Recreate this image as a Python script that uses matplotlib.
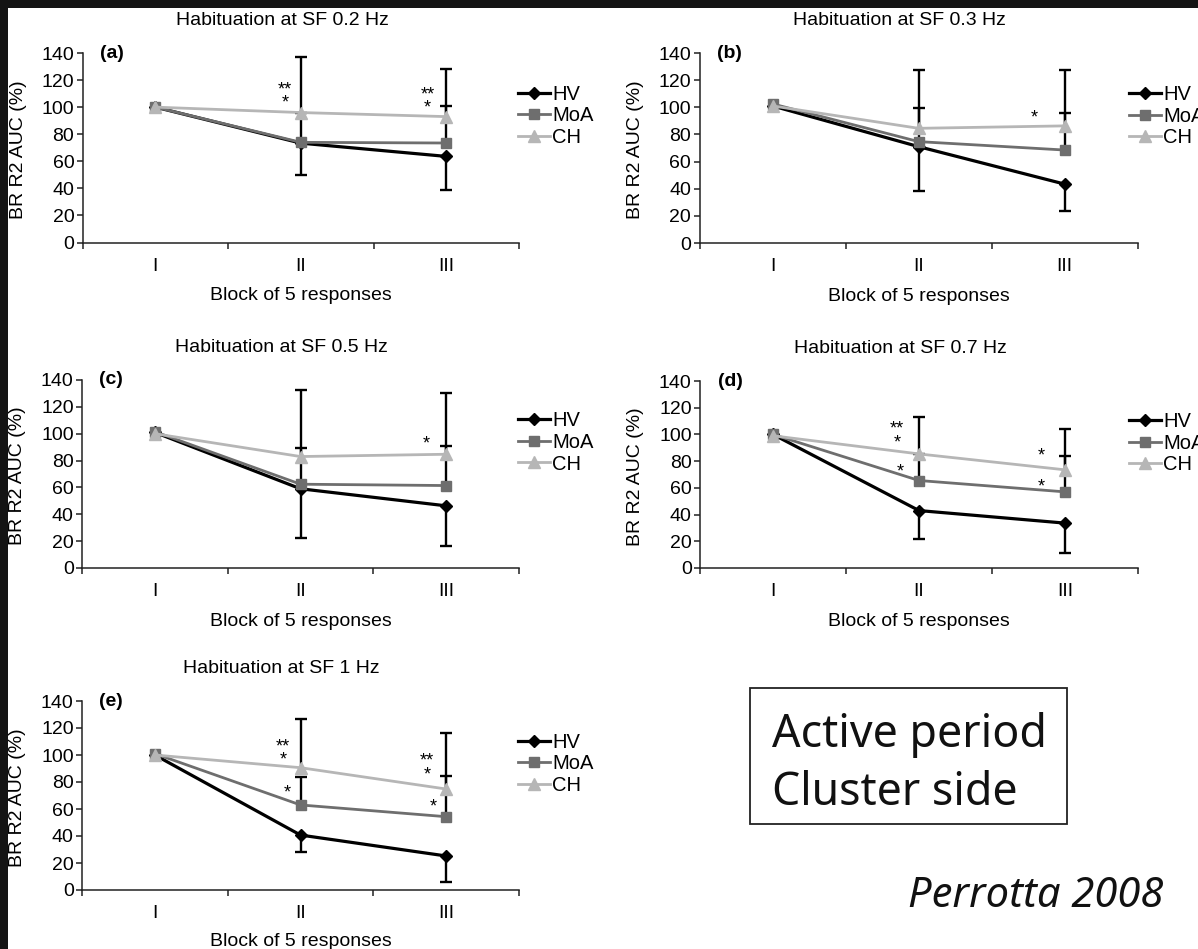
import numpy as np
import matplotlib
matplotlib.use("Agg")
import matplotlib.pyplot as plt
from matplotlib.patches import Rectangle

plt.rcParams["font.family"] = ["Liberation Sans", "DejaVu Sans"]

# ---- data -------------------------------------------------------------
blocks = ["I", "II", "III"]
groups = ["HV", "MoA", "CH"]
titles = ["Habituation at SF 0.2 Hz", "Habituation at SF 0.3 Hz",
          "Habituation at SF 0.5 Hz", "Habituation at SF 0.7 Hz",
          "Habituation at SF 1 Hz"]
tags = ["(a)", "(b)", "(c)", "(d)", "(e)"]

# mean BR R2 AUC (% of block I) per panel, blocks I-III
hv_mean = [[100, 73.4, 63.6], [101, 71, 43.4], [101, 59, 46.3],
           [100, 43, 33.6], [100, 40.7, 25.2]]
moa_mean = [[100, 74, 73.5], [102.5, 74.7, 68.5], [101.5, 62.4, 61.4],
            [100, 65.5, 57], [101, 63, 54.3]]
ch_mean = [[100, 96, 93], [101, 84.5, 86.3], [100, 83, 84.7],
           [99, 85.4, 73.5], [100, 90.6, 74.8]]

# one-sided SD bars: HV downwards, MoA and CH upwards
hv_err = [[0, 23.6, 25], [0, 33, 19.7], [0, 36.5, 30.2],
          [0, 21, 22.4], [0, 12.8, 19.5]]
moa_err = [[0, 22, 27], [0, 24.6, 27], [0, 27, 29.5],
           [0, 20, 26.5], [0, 21, 30]]
ch_err = [[0, 40.8, 35], [0, 43.2, 41.4], [0, 49.6, 45.3],
          [0, 27.5, 30.4], [0, 36, 41.7]]

# significance marks (level = height of the bottom row of stars)
star_panel = [0, 0, 1, 2, 3, 3, 3, 3, 4, 4, 4, 4]
star_x = [1.89, 2.87, 2.79, 2.86, 1.85, 1.87, 2.84, 2.84,
          1.88, 1.91, 2.87, 2.91]
star_y = [106, 102, 95, 95, 96.6, 74.7, 86.6, 63.8,
          98.8, 74.8, 88.4, 64.2]
star_text = ["**\n*", "**\n*", "*", "*", "**\n*", "*", "*", "*",
             "**\n*", "*", "**\n*", "*"]

# ---- figure -----------------------------------------------------------
W, H = 1198, 949
fig = plt.figure(figsize=(W / 100, H / 100), dpi=100)
fig.patch.set_facecolor("white")

# dark frame strips along top and left edge
fig.patches.append(Rectangle((0, 1 - 8 / H), 1, 8 / H, transform=fig.transFigure,
                             facecolor="#141414", edgecolor="none", zorder=0))
fig.patches.append(Rectangle((0, 0), 8 / W, 1, transform=fig.transFigure,
                             facecolor="#141414", edgecolor="none", zorder=0))

# axes boxes in pixels: left, right, top (y=140), bottom (y=0)
boxes = [(82.7, 519, 53, 242.5), (699.5, 1137.7, 53, 243),
         (82, 519, 380, 568), (700, 1138, 381, 568), (82, 519, 701, 890)]
xlabel_pads = [9, 9, 9, 9, 7.5]
legend_x = [0.997, 0.980, 0.997, 0.980, 0.997]

C_HV, C_MOA, C_CH = "#000000", "#6e6e6e", "#b6b6b6"
FS = 14
x = np.arange(1, 4)

for i, (l, r, t, b) in enumerate(boxes):
    ax = fig.add_axes([l / W, 1 - b / H, (r - l) / W, (b - t) / H])
    hv, moa, ch = np.array(hv_mean[i]), np.array(moa_mean[i]), np.array(ch_mean[i])
    he, me, ce = np.array(hv_err[i]), np.array(moa_err[i]), np.array(ch_err[i])

    # error bars
    for y0, e, sign in ((hv, he, -1), (moa, me, 1), (ch, ce, 1)):
        m = e > 0
        ends = y0 + sign * e
        ax.vlines(x[m], y0[m], ends[m], color="black", lw=1.7, zorder=2)
        ax.plot(x[m], ends[m], ls="none", marker="_", ms=9, mew=1.7,
                color="black", zorder=2)

    l1, = ax.plot(x, hv, color=C_HV, lw=2.3, marker="D", ms=6.3,
                  mec=C_HV, mfc=C_HV, zorder=3, label=groups[0])
    l2, = ax.plot(x, moa, color=C_MOA, lw=2.0, marker="s", ms=6.8,
                  mec=C_MOA, mfc=C_MOA, zorder=4, label=groups[1])
    l3, = ax.plot(x, ch, color=C_CH, lw=2.0, marker="^", ms=8.5,
                  mec=C_CH, mfc=C_CH, zorder=5, label=groups[2])

    ax.set_xlim(0.5, 3.5)
    ax.set_ylim(0, 140)
    ax.set_yticks(np.arange(0, 141, 20))
    ax.set_xticks(x)
    ax.set_xticklabels(blocks)
    ax.set_xticks([0.5, 1.5, 2.5, 3.5], minor=True)
    ax.tick_params(axis="x", which="major", length=0, pad=11, labelsize=FS)
    ax.tick_params(axis="x", which="minor", length=4, width=1.1,
                   direction="out", color="#222222")
    ax.tick_params(axis="y", length=4, width=1.1, direction="out",
                   pad=2, labelsize=FS, color="#222222")
    for s in ("top", "right"):
        ax.spines[s].set_visible(False)
    for s in ("left", "bottom"):
        ax.spines[s].set_linewidth(1.1)
        ax.spines[s].set_color("#222222")
    ax.patch.set_alpha(0)

    ax.set_title(titles[i], fontsize=FS, x=0.457, pad=20)
    ax.set_xlabel("Block of 5 responses", fontsize=FS, labelpad=xlabel_pads[i])
    ax.set_ylabel("BR R2 AUC (%)", fontsize=FS, va="center")
    ax.yaxis.set_label_coords(-64 / (r - l), 0.49)
    ax.text(0.04, 1.0, tags[i], transform=ax.transAxes, fontsize=FS,
            fontweight="bold", ha="left", va="center")

    ax.legend(handles=[l1, l2, l3], loc="center left",
              bbox_to_anchor=(legend_x[i], 0.668), frameon=False, fontsize=14.5,
              handlelength=1.6, handletextpad=0.1, labelspacing=0.13,
              borderpad=0, borderaxespad=0)

    for p, sx, sy, st in zip(star_panel, star_x, star_y, star_text):
        if p == i:
            ax.annotate(st, xy=(sx, sy), xytext=(0, -6),
                        textcoords="offset points", ha="center",
                        va="baseline", fontsize=13, linespacing=0.72,
                        zorder=6)

# note box
fig.patches.append(Rectangle((750 / W, 1 - 824 / H), (1067 - 750) / W,
                             (824 - 688) / H, transform=fig.transFigure,
                             facecolor="none", edgecolor="#222222", lw=1.3))
fig.text(772 / W, 1 - 747 / H, "Active period", fontsize=32.2,
         family="Noto Sans", va="baseline", ha="left", color="#111111")
fig.text(772 / W, 1 - 805 / H, "Cluster side", fontsize=32.2,
         family="Noto Sans", va="baseline", ha="left", color="#111111")
fig.text(908 / W, 1 - 907 / H, "Perrotta 2008", fontsize=30,
         family="Noto Sans", style="italic", va="baseline", ha="left",
         color="#111111")

fig.savefig("out.png", dpi=100)
